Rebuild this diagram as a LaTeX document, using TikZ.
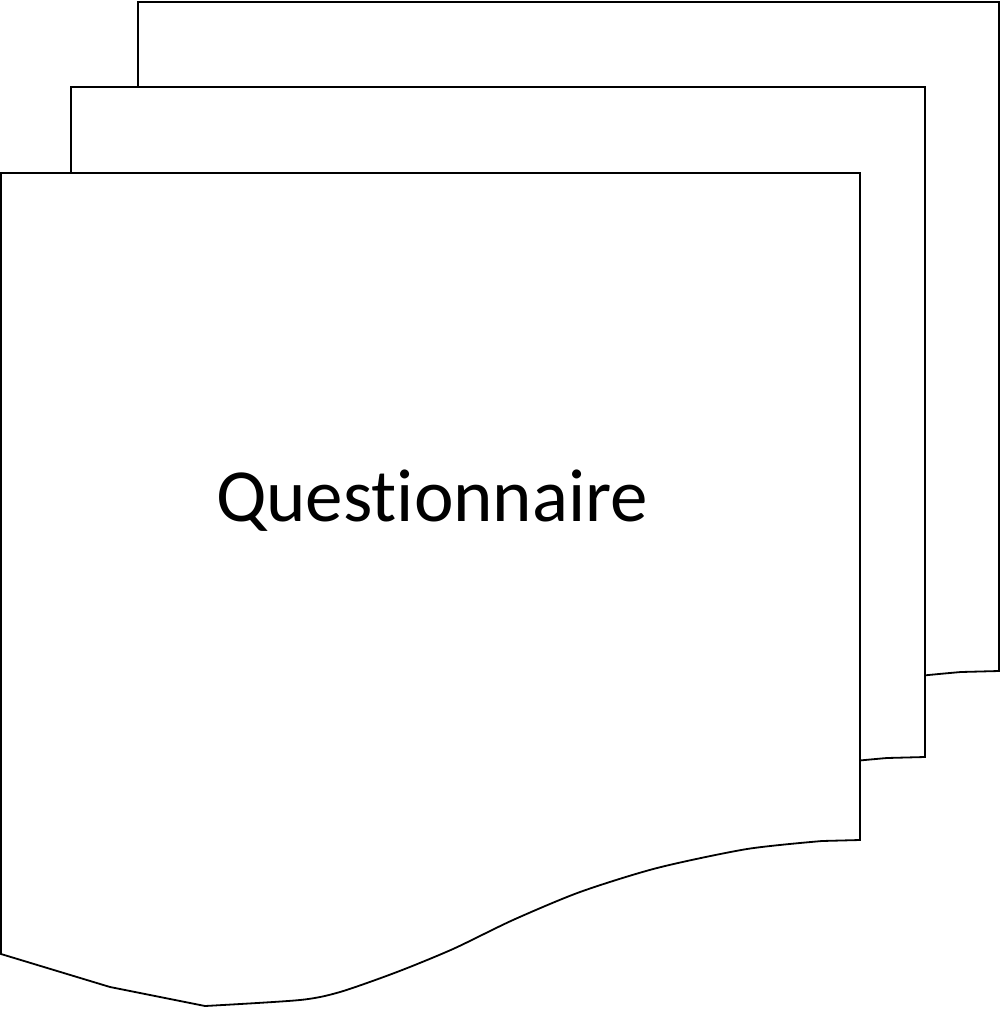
\documentclass[tikz,border=0pt]{standalone}
\usepackage{fontspec}
\setmainfont[Ligatures={NoCommon,NoRare}]{Carlito}
\tikzset{
  docpage/.style={draw=black, fill=white, line width=1.8pt, line join=miter},
  lbl/.style={font=\fontsize{75}{90}\selectfont, inner sep=0pt, anchor=base}
}
\newcommand\docsheet[4]{% shift x, shift y, local left, local top
  \begin{scope}[shift={(#1,#2)}]
    \filldraw[docpage] (#3,#4) -- (860,#4) -- (860,840) -- (822,841)
      -- plot[smooth, tension=0.45] coordinates {(822,841) (747,849) (657,868) (580,892) (513,920) (453,949) (397,972) (340,992) (300,1000) (205,1006)}
      -- (110,987) -- (#3,954) -- cycle;
  \end{scope}}
\begin{document}
\begin{tikzpicture}[x=1pt, y=-1pt]
  \useasboundingbox (0,0) rectangle (1001,1012);
  \docsheet{139}{-169}{-1}{171}
  \docsheet{65}{-83}{6}{170}
  \docsheet{0}{0}{1}{173}
  \node[lbl] (title) at (432,521) {Questionnaire};
\end{tikzpicture}
\end{document}
